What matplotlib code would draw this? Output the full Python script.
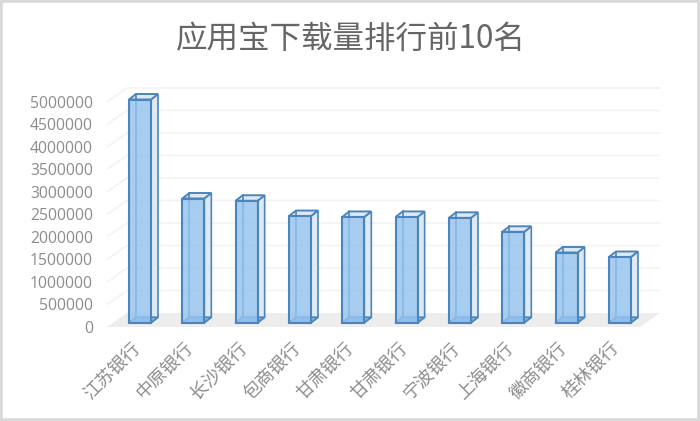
import matplotlib
matplotlib.use('Agg')
import matplotlib.pyplot as plt
from matplotlib.patches import Polygon, Rectangle
from matplotlib.transforms import ScaledTranslation

plt.rcParams['font.family'] = ['Noto Sans CJK SC', 'DejaVu Sans']

banks = ['江苏银行', '中原银行', '长沙银行', '包商银行', '甘肃银行',
         '甘肃银行', '宁波银行', '上海银行', '徽商银行', '桂林银行']
downloads = [4960000, 2760000, 2710000, 2370000, 2350000,
             2350000, 2330000, 2020000, 1560000, 1460000]
ticks = [0, 500000, 1000000, 1500000, 2000000, 2500000,
         3000000, 3500000, 4000000, 4500000, 5000000]
title = '应用宝下载量排行前10名'

W, H = 700, 421
PX_X = 53.33          # pixels per category
PX_Y = 45 / 1e6       # pixels per download
DX = 7 / PX_X         # bar depth
DY = 5.5 / PX_Y
BAR_W = 22 / PX_X
EDGE = '#4a86bd'
GRID = '#f3f3f3'

fig = plt.figure(figsize=(W / 100, H / 100), dpi=100)
fig.patch.set_facecolor('white')
fig.add_artist(Rectangle((0, 0), 1, 1, transform=fig.transFigure, fill=False,
                         edgecolor='#d9d9d9', linewidth=4))

ax = fig.add_axes([107 / W, (H - 327) / H, 553 / W, 242 / H])
ax.set_xlim(-33 / PX_X, 520 / PX_X)
ax.set_ylim(-4.3 / PX_Y, 237.7 / PX_Y)
ax.patch.set_visible(False)
for s in ax.spines.values():
    s.set_visible(False)

# floor and walls
x0, x1 = ax.get_xlim()
y_front = ax.get_ylim()[0]
y_back = 9.7 / PX_Y
wall = 20 / PX_X
ax.add_patch(Polygon([(x0, y_front), (x0 + wall, y_back), (x1, y_back), (x1 - wall, y_front)],
                     facecolor='#ededed', edgecolor='none', zorder=1))
for t in ticks[1:]:
    ax.plot([x0, x0 + wall, x1], [y_front + t, y_back + t, y_back + t],
            color=GRID, linewidth=1.2, zorder=1)

# bars, back to front
for i, v in enumerate(downloads):
    l = i - BAR_W / 2
    r = i + BAR_W / 2
    ax.add_patch(Polygon([(r, 0), (r + DX, DY), (r + DX, v + DY), (r, v)],
                         facecolor='#dfe9f4', edgecolor=EDGE, linewidth=1.2, zorder=2))
    ax.add_patch(Polygon([(l, v), (l + DX, v + DY), (r + DX, v + DY), (r, v)],
                         facecolor='#dfe9f4', edgecolor=EDGE, linewidth=1.4, zorder=2))
    ax.add_patch(Polygon([(l, 0), (l + DX, DY), (r + DX, DY), (r, 0)],
                         facecolor='#7fb4e6', edgecolor=EDGE, linewidth=1.2, zorder=2))
    ax.plot([l + DX, l + DX], [DY, v + DY], color=EDGE, linewidth=1.2, zorder=2)
    ax.plot([l, l + DX], [0, DY], color=EDGE, linewidth=1.2, zorder=2)
ax.bar(range(len(banks)), downloads, width=BAR_W, facecolor='#94c2ee', alpha=0.82,
       edgecolor='none', zorder=3)
ax.bar(range(len(banks)), downloads, width=BAR_W, fill=False,
       edgecolor=EDGE, linewidth=1.5, zorder=4)

ax.set_yticks(ticks)
ax.set_yticklabels([str(t) for t in ticks], fontsize=11.3, color='#8c8c8c', family=['Open Sans'])
ax.tick_params(axis='y', length=0, pad=10)
shift = ScaledTranslation(0, -4 / 100, fig.dpi_scale_trans)
for lab in ax.get_yticklabels():
    lab.set_transform(lab.get_transform() + shift)

ax.set_xticks(range(len(banks)))
ax.set_xticklabels(banks, fontsize=13, color='#8c8c8c', rotation=45,
                   ha='right', va='top', rotation_mode='anchor')
ax.tick_params(axis='x', length=0, pad=9)
xshift = ScaledTranslation(-9 / 100, 0, fig.dpi_scale_trans)
for lab in ax.get_xticklabels():
    lab.set_transform(lab.get_transform() + xshift)

fig.text(350.5 / W, (H - 39) / H, title, fontsize=22.7, color='#666666', ha='center', va='center')

fig.savefig('out.png', dpi=100)
